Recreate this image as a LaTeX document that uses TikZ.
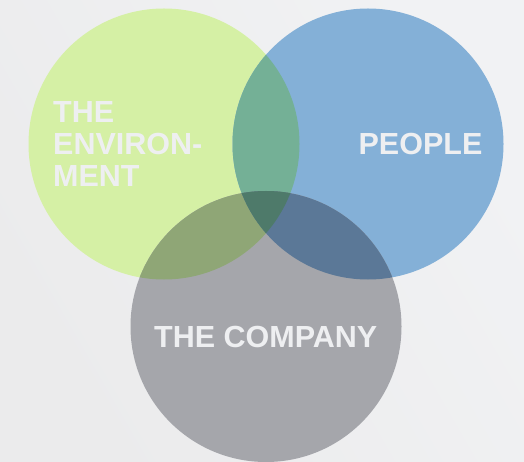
\documentclass[tikz,border=0pt]{standalone}
\usepackage{fontspec}
\setmainfont{Liberation Sans}
\definecolor{bgA}{HTML}{F1F2F4}
\definecolor{bgB}{HTML}{EBEBEC}
\definecolor{cgreen}{HTML}{D5F0A5}
\definecolor{cblue}{HTML}{84B0D7}
\definecolor{cgray}{HTML}{A5A6AB}
\definecolor{cgb}{HTML}{74B096}
\definecolor{cgg}{HTML}{8FA676}
\definecolor{cbg}{HTML}{5B7897}
\definecolor{call}{HTML}{4E7A6A}
\definecolor{ctext}{HTML}{EEEFF1}
\begin{document}
\begin{tikzpicture}[x=1pt,y=-1pt,
  lbl/.style={text=ctext,font=\bfseries\fontsize{30.5}{32}\selectfont,inner sep=0pt}]
\useasboundingbox (0,0) rectangle (524,462);
\shade[left color=bgA,right color=bgB,shading angle=-60] (0,0) rectangle (524,462);
\coordinate (ce) at (164,144);
\coordinate (cp) at (368,144);
\coordinate (cc) at (266,326.5);
\def\R{135.5pt}
% solo circles
\fill[cgreen] (ce) circle[radius=\R];
\fill[cblue] (cp) circle[radius=\R];
\fill[cgray] (cc) circle[radius=\R];
% pairwise overlaps
\begin{scope}
  \clip (ce) circle[radius=\R];
  \fill[cgb] (cp) circle[radius=\R];
  \fill[cgg] (cc) circle[radius=\R];
\end{scope}
\begin{scope}
  \clip (cp) circle[radius=\R];
  \fill[cbg] (cc) circle[radius=\R];
\end{scope}
\begin{scope}
  \clip (ce) circle[radius=\R];
  \clip (cp) circle[radius=\R];
  \fill[call] (cc) circle[radius=\R];
\end{scope}
% labels
\node[lbl,anchor=base west] (env1) at (53,123) {THE};
\node[lbl,anchor=base west] (env2) at (53,155) {ENVIRON-};
\node[lbl,anchor=base west] (env3) at (53,187) {MENT};
\node[lbl,anchor=base] (people) at (420.5,155) {PEOPLE};
\node[lbl,anchor=base] (company) at (265.7,347.7) {THE COMPANY};
\end{tikzpicture}
\end{document}
